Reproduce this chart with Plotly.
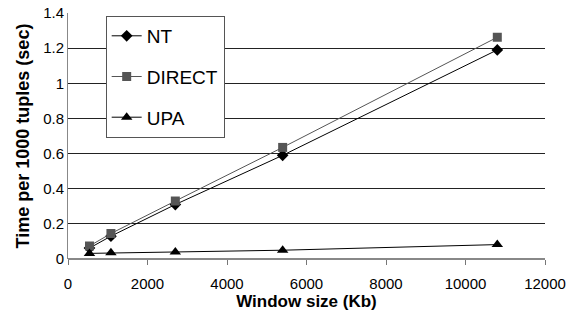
import plotly.graph_objects as go

x_kb = [540, 1080, 2700, 5400, 10800]
nt = [0.062, 0.13, 0.31, 0.59, 1.19]
direct = [0.074, 0.145, 0.33, 0.635, 1.262]
upa = [0.032, 0.035, 0.04, 0.05, 0.082]

fig = go.Figure()
fig.add_trace(go.Scatter(x=x_kb, y=nt, name="NT", mode="lines+markers",
                         line=dict(color="#000000", width=1),
                         marker=dict(symbol="diamond", size=9, color="#000000"),
                         legendgroup="a"))
fig.add_trace(go.Scatter(x=x_kb, y=direct, name="DIRECT", mode="lines+markers",
                         line=dict(color="#555555", width=1),
                         marker=dict(symbol="square", size=9, color="#555555"),
                         legendgroup="b"))
fig.add_trace(go.Scatter(x=x_kb, y=upa, name="UPA", mode="lines+markers",
                         line=dict(color="#000000", width=1),
                         marker=dict(symbol="triangle-up", size=10, color="#000000"),
                         legendgroup="c"))

fig.update_layout(
    template="none",
    width=569, height=311,
    margin=dict(l=68, r=24, t=13, b=52, autoexpand=False),
    paper_bgcolor="white", plot_bgcolor="white",
    font=dict(family="Liberation Sans, Arial, sans-serif", color="#000000", size=15),
    showlegend=True,
    legend=dict(x=0.079, y=0.988, xanchor="left", yanchor="top",
                bordercolor="#555555", borderwidth=1, bgcolor="white",
                font=dict(size=19), traceorder="grouped", tracegroupgap=13),
    xaxis=dict(range=[0, 12000], dtick=2000, tick0=0, tickformat="d", showgrid=False,
               ticks="outside", ticklen=5, tickcolor="#777777",
               showline=False, zeroline=False, automargin=False,
               ticklabeloverflow="allow", ticklabelposition="outside", ticklabelstandoff=6,
               title=dict(text="<b>Window size (Kb)</b>", font=dict(size=17), standoff=1),
               tickfont=dict(size=15)),
    yaxis=dict(range=[0, 1.4], dtick=0.2, showgrid=True, gridcolor="#222222", gridwidth=1,
               zeroline=True, zerolinecolor="#888888", zerolinewidth=2,
               showline=True, linecolor="#888888", linewidth=1, ticks="", automargin=False,
               ticklabeloverflow="allow",
               title=dict(text="<b>Time per 1000 tuples (sec)</b>", font=dict(size=18), standoff=8),
               tickfont=dict(size=15)),
)

fig.write_html("out.html", config={"displayModeBar": False},
               post_script="document.body.style.margin='0';")
